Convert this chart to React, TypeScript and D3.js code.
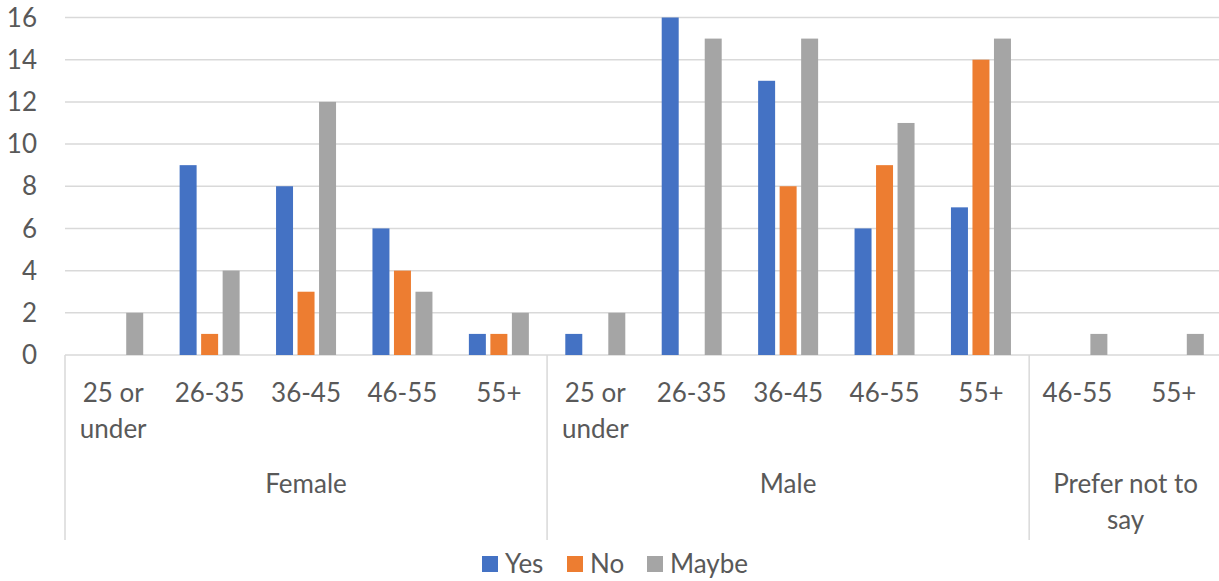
import React from "react";
import * as d3 from "d3";

const groups = ["Female", "Male", "Prefer not to say"];
const groupLabelLines = [["Female"], ["Male"], ["Prefer not to", "say"]];
const categories = [
  { group: "Female", age: "25 or under" },
  { group: "Female", age: "26-35" },
  { group: "Female", age: "36-45" },
  { group: "Female", age: "46-55" },
  { group: "Female", age: "55+" },
  { group: "Male", age: "25 or under" },
  { group: "Male", age: "26-35" },
  { group: "Male", age: "36-45" },
  { group: "Male", age: "46-55" },
  { group: "Male", age: "55+" },
  { group: "Prefer not to say", age: "46-55" },
  { group: "Prefer not to say", age: "55+" },
];
const seriesNames = ["Yes", "No", "Maybe"];
const yesValues = [0, 9, 8, 6, 1, 1, 16, 13, 6, 7, 0, 0];
const noValues = [0, 1, 3, 4, 1, 0, 0, 8, 9, 14, 0, 0];
const maybeValues = [2, 4, 12, 3, 2, 2, 15, 15, 11, 15, 1, 1];
const seriesValues = [yesValues, noValues, maybeValues];
const colors = ["#4472C4", "#ED7D31", "#A5A5A5"];
const yTicks = [0, 2, 4, 6, 8, 10, 12, 14, 16];

const W = 1219;
const H = 581;
const left = 65;
const right = 1222;
const top = 17.5;
const bottom = 355;
const font = "Lato, 'Open Sans', sans-serif";
const textColor = "#595959";
const gridColor = "#D9D9D9";
const fs = 26;

function ageLines(age: string): string[] {
  return age === "25 or under" ? ["25 or", "under"] : [age];
}

export default function App() {
  const idx = categories.map((_, i) => String(i));
  const x0 = d3.scaleBand().domain(idx).range([left, right]).padding(0);
  const cw = x0.bandwidth();
  const x1 = d3
    .scaleBand()
    .domain(seriesNames)
    .range([(cw - 60) / 2, (cw + 60) / 2])
    .paddingInner(0.21)
    .paddingOuter(0);
  const y = d3.scaleLinear().domain([0, 16]).range([bottom, top]);

  // group extents
  const groupExtents = groups.map((g) => {
    const ids = categories.map((c, i) => (c.group === g ? i : -1)).filter((i) => i >= 0);
    const x = x0(String(ids[0]))!;
    const xe = x0(String(ids[ids.length - 1]))! + cw;
    return { g, x, xe };
  });
  const dividers = [left, ...groupExtents.map((e) => e.xe)];

  const legendItems = [
    { name: "Yes", sx: 482, tx: 505 },
    { name: "No", sx: 567, tx: 590 },
    { name: "Maybe", sx: 647, tx: 670 },
  ];

  return (
    <svg
      width={W}
      height={H}
      style={{ position: "absolute", left: 0, top: 0, background: "#fff" }}
      fontFamily={font}
    >
      {yTicks.map((t) => (
        <g key={t}>
          <line x1={left} x2={W} y1={y(t)} y2={y(t)} stroke={gridColor} strokeWidth={1.5} />
          <text
            x={37}
            y={y(t)}
            dy="0.35em"
            textAnchor="end"
            fontSize={fs}
            fill={textColor}
          >
            {t}
          </text>
        </g>
      ))}
      {dividers.map((d, i) => (
        <line key={i} x1={d} x2={d} y1={bottom} y2={540} stroke={gridColor} strokeWidth={1.5} />
      ))}
      {categories.map((c, i) =>
        seriesValues.map((vals, s) => {
          const v = vals[i];
          if (v <= 0) return null;
          const bx = x0(String(i))! + x1(seriesNames[s])!;
          return (
            <rect
              key={`${i}-${s}`}
              x={bx}
              y={y(v)}
              width={x1.bandwidth()}
              height={y(0) - y(v)}
              fill={colors[s]}
            />
          );
        })
      )}
      {categories.map((c, i) => {
        const cx = x0(String(i))! + cw / 2;
        return ageLines(c.age).map((ln, k) => (
          <text
            key={`${i}-${k}`}
            x={cx}
            y={402 + k * 36}
            textAnchor="middle"
            fontSize={fs}
            fill={textColor}
          >
            {ln}
          </text>
        ));
      })}
      {groupExtents.map((e, gi) => {
        const cx = (e.x + Math.min(e.xe, e.xe)) / 2;
        return groupLabelLines[gi].map((ln, k) => (
          <text
            key={`${gi}-${k}`}
            x={cx}
            y={493 + k * 36}
            textAnchor="middle"
            fontSize={fs}
            fill={textColor}
          >
            {ln}
          </text>
        ));
      })}
      {legendItems.map((l, i) => (
        <g key={l.name}>
          <rect x={l.sx} y={556} width={16} height={16} fill={colors[i]} />
          <text x={l.tx} y={573} fontSize={fs} fill={textColor}>
            {l.name}
          </text>
        </g>
      ))}
    </svg>
  );
}
